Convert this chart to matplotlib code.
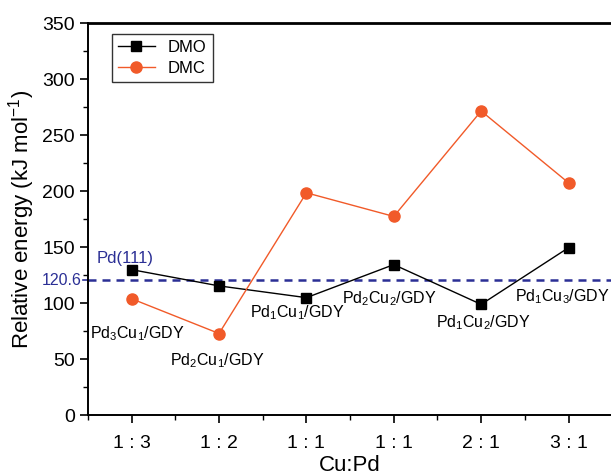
import matplotlib
matplotlib.use('Agg')
import matplotlib.pyplot as plt
from matplotlib.ticker import MultipleLocator

plt.rcParams['font.family'] = ['Liberation Sans', 'DejaVu Sans']
plt.rcParams['mathtext.fontset'] = 'custom'
plt.rcParams['mathtext.rm'] = 'Liberation Sans'

ratios = ['1:3', '1:2', '1:1', '1:1', '2:1', '3:1']
dmo = [130, 115.5, 105, 134.5, 99, 149.6]
dmc = [104, 73, 198.6, 177.5, 271.6, 207.5]
ref_value = 120.6
ref_name = 'Pd(111)'

# catalyst labels with (x, y) placement in data units
cat_labels = [r'Pd$_3$Cu$_1$/GDY', r'Pd$_2$Cu$_1$/GDY', r'Pd$_1$Cu$_1$/GDY',
              r'Pd$_2$Cu$_2$/GDY', r'Pd$_1$Cu$_2$/GDY', r'Pd$_1$Cu$_3$/GDY']
lab_x = [1.06, 1.98, 2.90, 3.95, 5.02, 5.93]
lab_y = [73, 49, 92, 104, 83, 106]

x = list(range(1, len(ratios) + 1))

fig = plt.figure(figsize=(6.11, 4.73), dpi=100)
ax = fig.add_axes([0.144, 0.122, 0.858, 0.829])

blue = '#2b2f95'
orange = '#f15a29'

ax.axhline(ref_value, color=blue, ls=(0, (3.2, 2.4)), lw=1.8, zorder=1)
ax.plot(x, dmo, '-s', color='black', lw=1, ms=7, label='DMO', zorder=3)
ax.plot(x, dmc, '-o', color=orange, lw=1, ms=8, label='DMC', zorder=3)

for lx, ly, t in zip(lab_x, lab_y, cat_labels):
    ax.text(lx, ly, t, ha='center', va='center', fontsize=11.5)

ax.text(0.93, 140, ref_name, color=blue, ha='center', va='center', fontsize=12)
yt = ax.get_yaxis_transform()
ax.text(-0.012, ref_value, '120.6', color=blue, ha='right', va='center',
        fontsize=11.5, transform=yt)
ax.plot([-0.01, 0], [ref_value, ref_value], color=blue, lw=1.2,
        transform=yt, clip_on=False)

ax.set_xlim(0.5, 6.5)
ax.set_ylim(0, 350)
ax.set_xticks(x)
ax.set_xticklabels([r.replace(':', ' : ') for r in ratios])
ax.xaxis.set_minor_locator(MultipleLocator(0.5))
ax.yaxis.set_major_locator(MultipleLocator(50))
ax.yaxis.set_minor_locator(MultipleLocator(25))
ax.tick_params(which='major', direction='out', length=6, width=1.2, labelsize=14)
ax.tick_params(which='minor', direction='out', length=3.5, width=1)
ax.tick_params(axis='x', pad=8)

for s in ax.spines.values():
    s.set_linewidth(1.4)
ax.spines['top'].set_linewidth(2)

ax.set_xlabel('Cu:Pd', fontsize=16, labelpad=2)
ax.set_ylabel(r'Relative energy (kJ mol$^{-1}$)', fontsize=16, labelpad=4)

leg = ax.legend(loc='upper left', bbox_to_anchor=(0.046, 0.972), fontsize=12,
                fancybox=False, edgecolor='black', handlelength=2.2,
                borderpad=0.35, labelspacing=0.35, borderaxespad=0)
leg.get_frame().set_linewidth(1)

fig.savefig('out.png', dpi=100)
